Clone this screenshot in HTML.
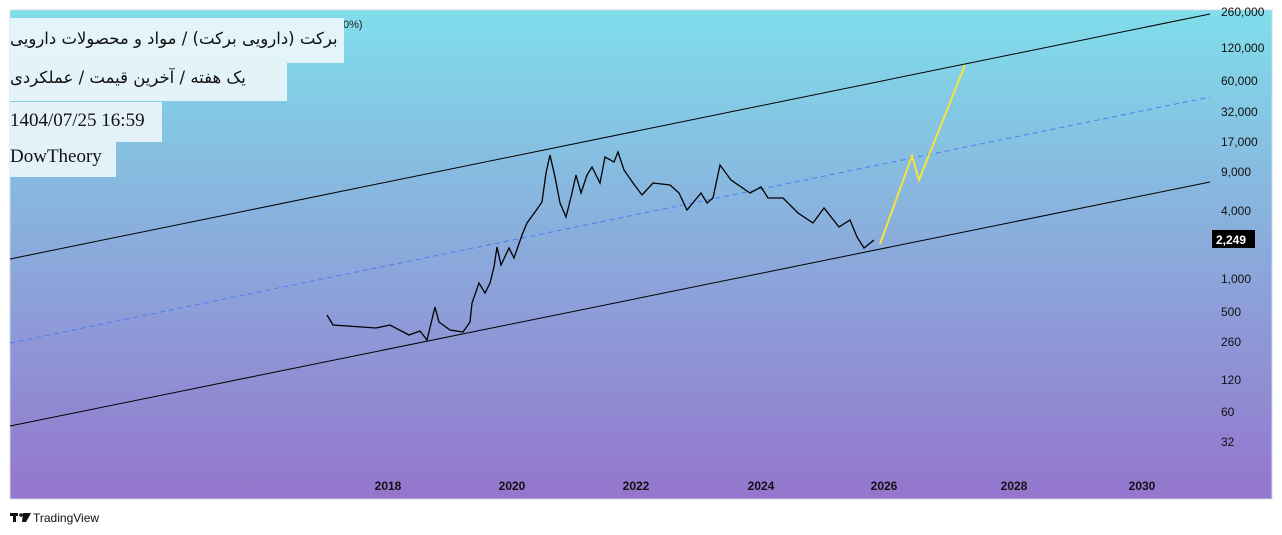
<!DOCTYPE html>
<html><head><meta charset="utf-8"><style>
body{margin:0;width:1282px;height:535px;background:#fff;overflow:hidden;font-family:"Liberation Sans",sans-serif}
.lbl{position:absolute;background:rgba(240,248,252,0.88);font-family:"Liberation Serif",serif;font-size:19px;color:#111;white-space:nowrap;overflow:hidden}
.fa{font-family:"DejaVu Sans",sans-serif;font-size:16.5px;direction:rtl;text-align:left;box-sizing:border-box}
</style></head><body>
<svg width="1282" height="535" style="position:absolute;left:0;top:0">
<defs><linearGradient id="g" x1="0" y1="0" x2="0" y2="1"><stop offset="0" stop-color="#80deea"/><stop offset="1" stop-color="#9575cd"/></linearGradient></defs>
<rect x="10" y="10" width="1262" height="489" fill="url(#g)" stroke="#d0d8e8"/>
<line x1="10" y1="259" x2="1210" y2="14" stroke="#000" stroke-width="1"/>
<line x1="10" y1="426" x2="1210" y2="182" stroke="#000" stroke-width="1"/>
<line x1="10" y1="343" x2="1210" y2="97" stroke="#4a7df5" stroke-width="1" stroke-dasharray="5,4"/>
<polyline fill="none" stroke="#000" stroke-width="1.3" points="327,315 333,325 376,328 390,325 409,335 420,331 427,340 435,307 439,322 450,330 463,332 470,322 472,303 479,283 485,293 490,283 494,267 497,247 501,265 509,248 514,258 522,235 527,223 535,212 542,202 546,173 550,155 555,177 560,203 566,217 572,193 576,175 581,193 587,175 592,167 600,183 605,157 614,162 618,152 624,170 633,183 642,195 653,183 670,185 679,193 687,210 701,193 707,203 713,198 720,165 731,180 750,193 761,187 768,198 783,198 798,213 813,223 824,208 839,227 850,220 857,237 864,248 874,240"/>
<polyline fill="none" stroke="#f5e53a" stroke-width="2" points="880,244 912,156 919,180 965,65"/>
<g font-size="12" fill="#111">
<text x="1221" y="16">260,000</text><text x="1221" y="52">120,000</text><text x="1221" y="85">60,000</text><text x="1221" y="116">32,000</text><text x="1221" y="146">17,000</text><text x="1221" y="176">9,000</text><text x="1221" y="215">4,000</text><text x="1221" y="283">1,000</text><text x="1221" y="316">500</text><text x="1221" y="346">260</text><text x="1221" y="384">120</text><text x="1221" y="416">60</text><text x="1221" y="446">32</text>
</g>
<rect x="1212" y="230" width="43" height="18" fill="#000"/>
<text x="1216" y="244" font-size="12" font-weight="bold" fill="#fff">2,249</text>
<g font-size="12" font-weight="bold" fill="#111" text-anchor="middle">
<text x="388" y="490">2018</text><text x="512" y="490">2020</text><text x="636" y="490">2022</text><text x="761" y="490">2024</text><text x="884" y="490">2026</text><text x="1014" y="490">2028</text><text x="1142" y="490">2030</text>
</g>
<text x="343" y="28" font-size="11" fill="#222">0%)</text>
<g transform="translate(10,513)"><rect x="0" y="0" width="8" height="3" fill="#111"/><rect x="3" y="0" width="3" height="9" fill="#111"/><circle cx="11" cy="2" r="1.8" fill="#111"/><polygon points="13,0 21,0 16,9 12,9" fill="#111"/></g>
<text x="33" y="522" font-size="12" fill="#111">TradingView</text>
</svg>
<div class="lbl fa" style="left:10px;top:18px;width:334px;height:45px;line-height:42px">برکت (دارویی برکت) / مواد و محصولات دارویی</div>
<div class="lbl fa" style="left:10px;top:63px;width:277px;height:38px;line-height:30px">یک هفته / آخرین قیمت / عملکردی</div>
<div class="lbl" style="left:10px;top:102px;width:152px;height:40px;line-height:38px">1404/07/25 16:59</div>
<div class="lbl" style="left:10px;top:142px;width:106px;height:35px;line-height:30px">DowTheory</div>
</body></html>
